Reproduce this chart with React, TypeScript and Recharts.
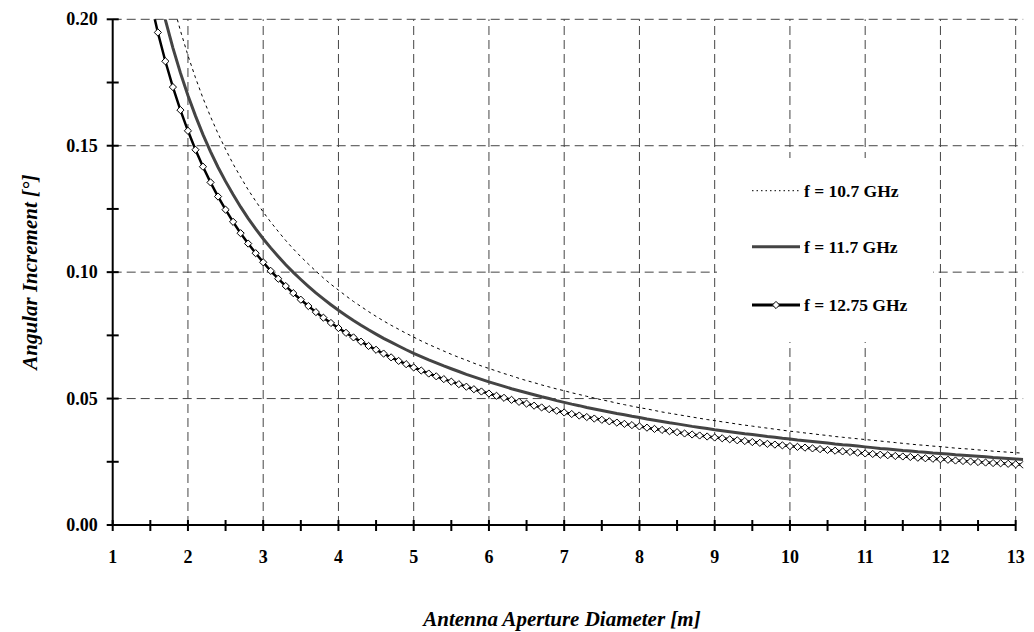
import React from 'react';
import { LineChart, Line, XAxis, YAxis, ReferenceLine, Legend, Label } from 'recharts';

// Antenna aperture diameter [m]
const diameters = [
  1.5, 1.6, 1.7, 1.8, 1.9,
  2.0, 2.1, 2.2, 2.3, 2.4, 2.5, 2.6, 2.7, 2.8, 2.9,
  3.0, 3.1, 3.2, 3.3, 3.4, 3.5, 3.6, 3.7, 3.8, 3.9,
  4.0, 4.1, 4.2, 4.3, 4.4, 4.5, 4.6, 4.7, 4.8, 4.9,
  5.0, 5.1, 5.2, 5.3, 5.4, 5.5, 5.6, 5.7, 5.8, 5.9,
  6.0, 6.1, 6.2, 6.3, 6.4, 6.5, 6.6, 6.7, 6.8, 6.9,
  7.0, 7.1, 7.2, 7.3, 7.4, 7.5, 7.6, 7.7, 7.8, 7.9,
  8.0, 8.1, 8.2, 8.3, 8.4, 8.5, 8.6, 8.7, 8.8, 8.9,
  9.0, 9.1, 9.2, 9.3, 9.4, 9.5, 9.6, 9.7, 9.8, 9.9,
  10.0, 10.1, 10.2, 10.3, 10.4, 10.5, 10.6, 10.7, 10.8, 10.9,
  11.0, 11.1, 11.2, 11.3, 11.4, 11.5, 11.6, 11.7, 11.8, 11.9,
  12.0, 12.1, 12.2, 12.3, 12.4, 12.5, 12.6, 12.7, 12.8, 12.9,
  13.0, 13.1,
];

// Angular increment [°] at f = 10.7 GHz
const inc1070 = [
  0.2476, 0.2321, 0.2185, 0.2063, 0.1955,
  0.1857, 0.1769, 0.1688, 0.1615, 0.1548, 0.1486, 0.1428, 0.1376, 0.1326, 0.1281,
  0.1238, 0.1198, 0.1161, 0.1125, 0.1092, 0.1061, 0.1032, 0.1004, 0.0977, 0.0952,
  0.0929, 0.0906, 0.0884, 0.0864, 0.0844, 0.0825, 0.0807, 0.0790, 0.0774, 0.0758,
  0.0743, 0.0728, 0.0714, 0.0701, 0.0688, 0.0675, 0.0663, 0.0652, 0.0640, 0.0629,
  0.0619, 0.0609, 0.0599, 0.0590, 0.0580, 0.0571, 0.0563, 0.0554, 0.0546, 0.0538,
  0.0531, 0.0523, 0.0516, 0.0509, 0.0502, 0.0495, 0.0489, 0.0482, 0.0476, 0.0470,
  0.0464, 0.0459, 0.0453, 0.0447, 0.0442, 0.0437, 0.0432, 0.0427, 0.0422, 0.0417,
  0.0413, 0.0408, 0.0404, 0.0399, 0.0395, 0.0391, 0.0387, 0.0383, 0.0379, 0.0375,
  0.0371, 0.0368, 0.0364, 0.0361, 0.0357, 0.0354, 0.0350, 0.0347, 0.0344, 0.0341,
  0.0338, 0.0335, 0.0332, 0.0329, 0.0326, 0.0323, 0.0320, 0.0317, 0.0315, 0.0312,
  0.0310, 0.0307, 0.0304, 0.0302, 0.0300, 0.0297, 0.0295, 0.0292, 0.0290, 0.0288,
  0.0286, 0.0284,
];

// Angular increment [°] at f = 11.7 GHz
const inc1170 = [
  0.2265, 0.2123, 0.1998, 0.1887, 0.1788,
  0.1699, 0.1618, 0.1544, 0.1477, 0.1415, 0.1359, 0.1307, 0.1258, 0.1213, 0.1171,
  0.1132, 0.1096, 0.1062, 0.1029, 0.0999, 0.0971, 0.0944, 0.0918, 0.0894, 0.0871,
  0.0849, 0.0829, 0.0809, 0.0790, 0.0772, 0.0755, 0.0738, 0.0723, 0.0708, 0.0693,
  0.0679, 0.0666, 0.0653, 0.0641, 0.0629, 0.0618, 0.0607, 0.0596, 0.0586, 0.0576,
  0.0566, 0.0557, 0.0548, 0.0539, 0.0531, 0.0523, 0.0515, 0.0507, 0.0500, 0.0492,
  0.0485, 0.0478, 0.0472, 0.0465, 0.0459, 0.0453, 0.0447, 0.0441, 0.0436, 0.0430,
  0.0425, 0.0419, 0.0414, 0.0409, 0.0404, 0.0400, 0.0395, 0.0390, 0.0386, 0.0382,
  0.0377, 0.0373, 0.0369, 0.0365, 0.0361, 0.0358, 0.0354, 0.0350, 0.0347, 0.0343,
  0.0340, 0.0336, 0.0333, 0.0330, 0.0327, 0.0324, 0.0320, 0.0317, 0.0315, 0.0312,
  0.0309, 0.0306, 0.0303, 0.0301, 0.0298, 0.0295, 0.0293, 0.0290, 0.0288, 0.0285,
  0.0283, 0.0281, 0.0278, 0.0276, 0.0274, 0.0272, 0.0270, 0.0267, 0.0265, 0.0263,
  0.0261, 0.0259,
];

// Angular increment [°] at f = 12.75 GHz
const inc1275 = [
  0.2078, 0.1948, 0.1834, 0.1732, 0.1641,
  0.1559, 0.1484, 0.1417, 0.1355, 0.1299, 0.1247, 0.1199, 0.1154, 0.1113, 0.1075,
  0.1039, 0.1005, 0.0974, 0.0945, 0.0917, 0.0891, 0.0866, 0.0842, 0.0820, 0.0799,
  0.0779, 0.0760, 0.0742, 0.0725, 0.0708, 0.0693, 0.0678, 0.0663, 0.0649, 0.0636,
  0.0623, 0.0611, 0.0599, 0.0588, 0.0577, 0.0567, 0.0557, 0.0547, 0.0537, 0.0528,
  0.0520, 0.0511, 0.0503, 0.0495, 0.0487, 0.0480, 0.0472, 0.0465, 0.0458, 0.0452,
  0.0445, 0.0439, 0.0433, 0.0427, 0.0421, 0.0416, 0.0410, 0.0405, 0.0400, 0.0395,
  0.0390, 0.0385, 0.0380, 0.0376, 0.0371, 0.0367, 0.0362, 0.0358, 0.0354, 0.0350,
  0.0346, 0.0343, 0.0339, 0.0335, 0.0332, 0.0328, 0.0325, 0.0321, 0.0318, 0.0315,
  0.0312, 0.0309, 0.0306, 0.0303, 0.0300, 0.0297, 0.0294, 0.0291, 0.0289, 0.0286,
  0.0283, 0.0281, 0.0278, 0.0276, 0.0273, 0.0271, 0.0269, 0.0266, 0.0264, 0.0262,
  0.0260, 0.0258, 0.0255, 0.0253, 0.0251, 0.0249, 0.0247, 0.0245, 0.0244, 0.0242,
  0.0240, 0.0238,
];

const xTicks = [1, 1.5, 2, 2.5, 3, 3.5, 4, 4.5, 5, 5.5, 6, 6.5, 7, 7.5, 8, 8.5, 9, 9.5, 10, 10.5, 11, 11.5, 12, 12.5, 13];
const yTicks = [0, 0.025, 0.05, 0.075, 0.1, 0.125, 0.15, 0.175, 0.2];
const xGrid = [2, 3, 4, 5, 6, 7, 8, 9, 10, 11, 12, 13];
const yGrid = [0.05, 0.1, 0.15, 0.2];

const seriesLabels = ['f = 10.7 GHz', 'f = 11.7 GHz', 'f = 12.75 GHz'];

const data = diameters.map((d, i) => ({
  d,
  f1070: inc1070[i],
  f1170: inc1170[i],
  f1275: inc1275[i],
}));

const SERIF = "'Liberation Serif', 'Times New Roman', Times, serif";
const tickFont: React.CSSProperties = { fontFamily: SERIF, fontWeight: 700, fontSize: 18, fill: '#000' };
const legendFont: React.CSSProperties = { fontFamily: SERIF, fontWeight: 700, fontSize: 17.5, fill: '#000' };
const titleFont: React.CSSProperties = { fontFamily: SERIF, fontWeight: 700, fontStyle: 'italic', fontSize: 21, fill: '#000' };

const GRID = { stroke: '#444', strokeWidth: 1, strokeDasharray: '9 5' };

// Tick marks cross the axis; labels only on whole metres
const XTick = (props: any) => {
  const { x, y, payload } = props;
  const major = Number.isInteger(payload.value);
  return (
    <g>
      <line x1={x} x2={x} y1={y - 5} y2={y + 6} stroke="#000" strokeWidth={2} />
      {major && (
        <text x={x} y={y + 38} textAnchor="middle" style={tickFont}>
          {payload.value}
        </text>
      )}
    </g>
  );
};

const YTick = (props: any) => {
  const { x, y, payload, index } = props;
  return (
    <g>
      <line x1={x - 6} x2={x + 6} y1={y} y2={y} stroke="#000" strokeWidth={2} />
      {index % 2 === 0 && (
        <text x={x - 15} y={y + 6} textAnchor="end" style={tickFont}>
          {Number(payload.value).toFixed(2)}
        </text>
      )}
    </g>
  );
};

// White diamond marker for the 12.75 GHz curve
const Diamond = (props: any) => {
  const { cx, cy, index } = props;
  if (cx == null || cy == null) return <g key={`dm-${index}`} />;
  const r = 3.6;
  return (
    <polygon
      key={`dm-${index}`}
      points={`${cx},${cy - r} ${cx + r},${cy} ${cx},${cy + r} ${cx - r},${cy}`}
      fill="#fff"
      stroke="#000"
      strokeWidth={1}
    />
  );
};

const LegendBox = () => {
  const rows = [32.7, 88.7, 147];
  return (
    <svg width={216} height={184} style={{ display: 'block' }}>
      <line x1={35} x2={83} y1={rows[0]} y2={rows[0]} stroke="#000" strokeWidth={1} strokeDasharray="1.5 3" />
      <line x1={35} x2={83} y1={rows[1]} y2={rows[1]} stroke="#444" strokeWidth={3} />
      <line x1={35} x2={83} y1={rows[2]} y2={rows[2]} stroke="#000" strokeWidth={3} />
      <polygon
        points={`59,${rows[2] - 3.6} 62.6,${rows[2]} 59,${rows[2] + 3.6} 55.4,${rows[2]}`}
        fill="#fff"
        stroke="#000"
        strokeWidth={1}
      />
      {seriesLabels.map((t, i) => (
        <text key={t} x={87} y={rows[i] + 6} style={legendFont}>
          {t}
        </text>
      ))}
    </svg>
  );
};

export default function App() {
  return (
    <div style={{ position: 'absolute', left: 0, top: 0, width: 1034, height: 632, background: '#fff' }}>
      <LineChart
        width={1034}
        height={632}
        data={data}
        margin={{ top: 19.3, right: 10.8, bottom: 0, left: 0 }}
      >
        <XAxis
          dataKey="d"
          type="number"
          domain={[1, 13.1]}
          allowDataOverflow
          ticks={xTicks}
          interval={0}
          height={107}
          axisLine={false}
          tickLine={false}
          tickSize={0}
          tickMargin={0}
          tick={<XTick />}
        >
          <Label
            content={(p: any) => {
              const vb = p.viewBox;
              return (
                <text x={vb.x + vb.width / 2 - 6} y={vb.y + vb.height - 6.3} textAnchor="middle" style={titleFont}>
                  Antenna Aperture Diameter [m]
                </text>
              );
            }}
          />
        </XAxis>
        <YAxis
          type="number"
          domain={[0, 0.2]}
          allowDataOverflow
          ticks={yTicks}
          interval={0}
          width={112.7}
          axisLine={{ stroke: '#000', strokeWidth: 2 }}
          tickLine={false}
          tickSize={0}
          tickMargin={0}
          tick={<YTick />}
        >
          <Label
            content={(p: any) => {
              const vb = p.viewBox;
              const cx = vb.x + 30;
              const cy = vb.y + vb.height / 2;
              return (
                <text
                  x={cx}
                  y={cy}
                  transform={`rotate(-90 ${cx} ${cy})`}
                  textAnchor="middle"
                  dominantBaseline="central"
                  style={titleFont}
                >
                  Angular Increment [°]
                </text>
              );
            }}
          />
        </YAxis>

        {xGrid.map((v) => (
          <ReferenceLine key={`gx-${v}`} x={v} {...GRID} />
        ))}
        {yGrid.map((v) => (
          <ReferenceLine key={`gy-${v}`} y={v} {...GRID} />
        ))}

        <Line
          dataKey="f1070"
          name={seriesLabels[0]}
          stroke="#000"
          strokeWidth={1}
          strokeDasharray="3 3.5"
          dot={false}
          activeDot={false}
          isAnimationActive={false}
        />
        <Line
          dataKey="f1170"
          name={seriesLabels[1]}
          stroke="#444"
          strokeWidth={3}
          dot={false}
          activeDot={false}
          isAnimationActive={false}
        />
        <Line
          dataKey="f1275"
          name={seriesLabels[2]}
          stroke="#000"
          strokeWidth={2.5}
          dot={Diamond}
          activeDot={false}
          isAnimationActive={false}
        />

        {/* horizontal axis line, from 1 m to 13 m */}
        <ReferenceLine
          segment={[{ x: 1, y: 0 }, { x: 13, y: 0 }]}
          stroke="#000"
          strokeWidth={2}
        />

        <Legend
          layout="vertical"
          align="center"
          verticalAlign="middle"
          content={() => <LegendBox />}
          wrapperStyle={{ left: 717, top: 158, width: 216, height: 184, background: '#fff', margin: 0, padding: 0, lineHeight: 0 }}
        />
      </LineChart>
    </div>
  );
}
